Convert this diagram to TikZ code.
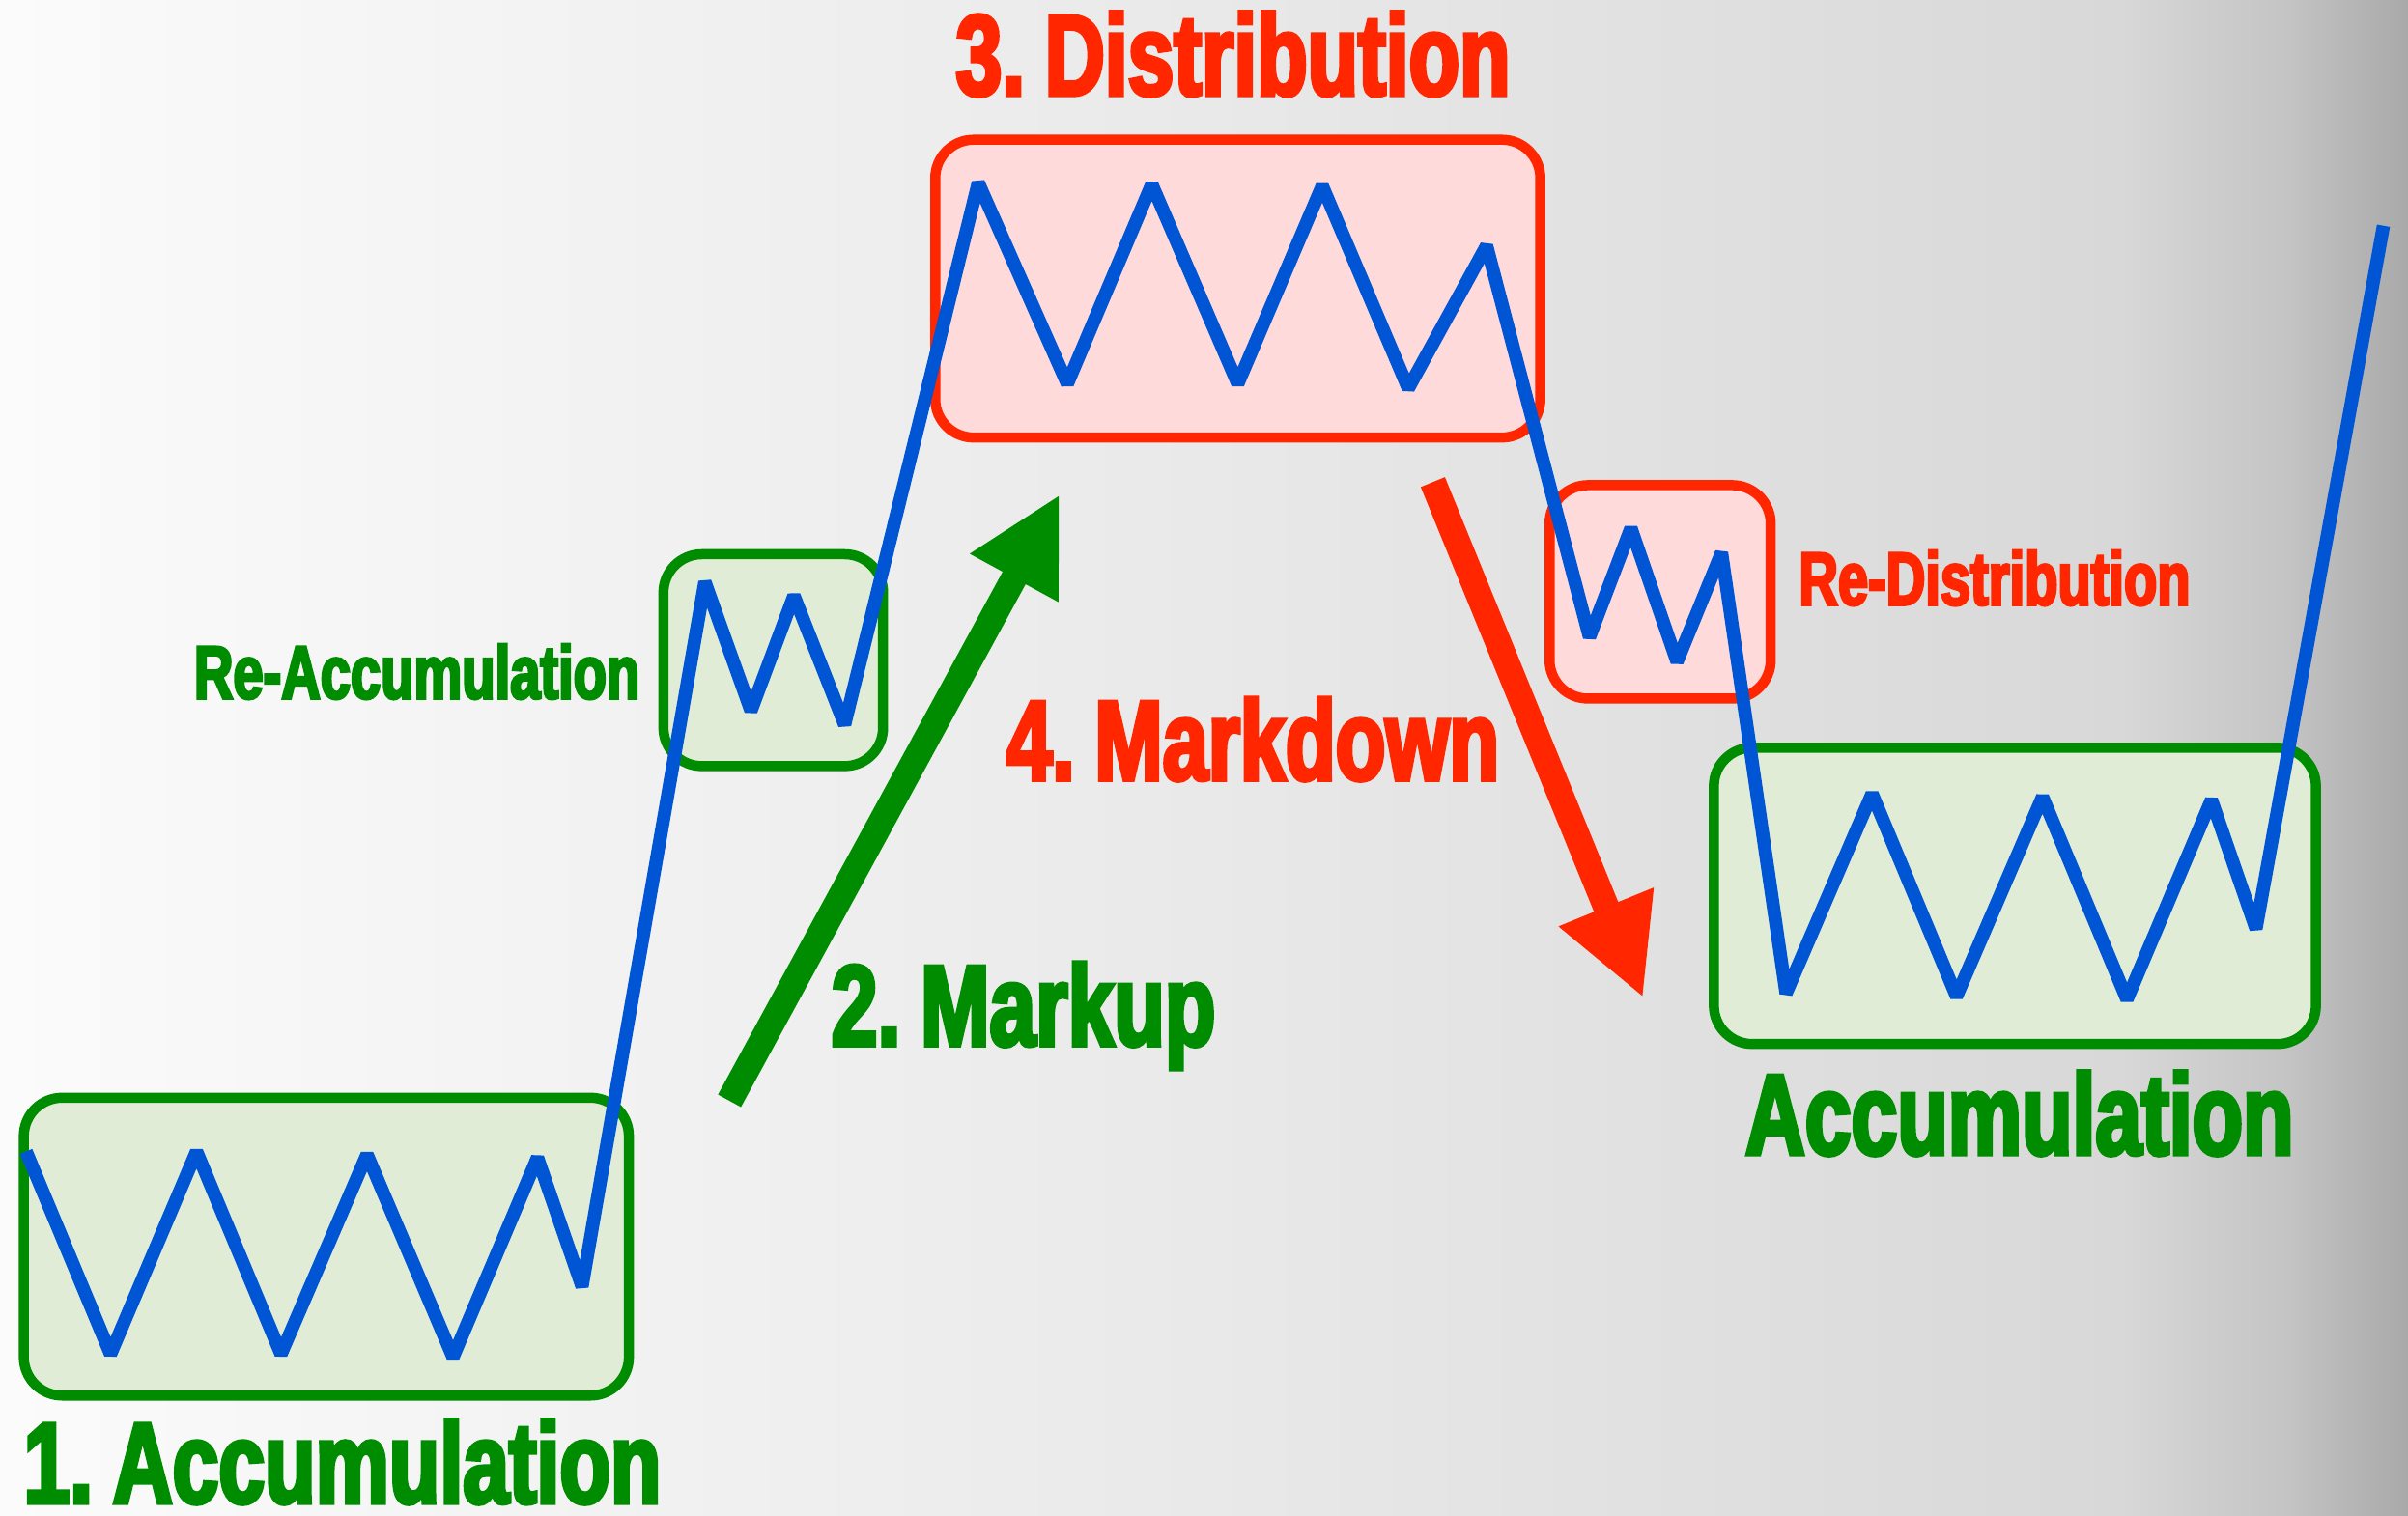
\documentclass[tikz,border=0pt]{standalone}
\usepackage{fontspec}
\usetikzlibrary{arrows.meta}
\newfontfamily\imp{Liberation Sans}[FakeStretch=0.72,BoldFeatures={FakeBold=3.5}]
\newcommand\impbig{\imp\bfseries\fontsize{37.5pt}{40pt}\selectfont\spaceskip=4pt\relax}
\newcommand\impmid{\imp\bfseries\fontsize{37pt}{39pt}\selectfont\spaceskip=4pt\relax}
\newcommand\impsmall{\imp\bfseries\fontsize{24.5pt}{26pt}\selectfont}
\definecolor{gr}{HTML}{008C00}
\definecolor{rd}{HTML}{FF2600}
\definecolor{bl}{HTML}{0055D4}
\definecolor{gfill}{HTML}{E0ECD6}
\definecolor{rfill}{HTML}{FFDADA}
\definecolor{bg0}{HTML}{FBFBFB}
\definecolor{bg1}{HTML}{E9E9E9}
\definecolor{bg2}{HTML}{D8D8D8}
\definecolor{bg3}{HTML}{C4C4C4}
\definecolor{bg4}{HTML}{A9A9A9}
\pgfdeclarehorizontalshading{bgshade}{100bp}{color(0bp)=(bg0); color(25bp)=(bg0); color(50bp)=(bg1); color(69bp)=(bg2); color(72.5bp)=(bg3); color(75bp)=(bg4); color(100bp)=(bg4)}
\begin{document}
\begin{tikzpicture}[x=0.5pt,y=-0.5pt,
  gbox/.style={draw=gr, fill=gfill, line width=3.3pt, rounded corners=12.5pt, inner sep=0pt, outer sep=0pt},
  rbox/.style={draw=rd, fill=rfill, line width=3.3pt, rounded corners=12.5pt, inner sep=0pt, outer sep=0pt},
  zig/.style={draw=bl, line width=4.3pt, line join=bevel},
  big/.style={font=\impbig, inner sep=0pt, anchor=base west},
  mid/.style={font=\impmid, inner sep=0pt, anchor=base west},
  small/.style={font=\impsmall, inner sep=0pt, anchor=base west}]
\useasboundingbox (0,0) rectangle (1568,987);
\shade[shading=bgshade] (0,0) rectangle (1568,987);
% boxes
\node[gbox, minimum width=197pt, minimum height=97pt] (acc1) at (212.5,812) {};
\node[gbox, minimum width=71.5pt, minimum height=69pt] (reacc) at (503.5,430) {};
\node[rbox, minimum width=197pt, minimum height=97pt] (dist) at (806,188) {};
\node[rbox, minimum width=72pt, minimum height=69.5pt] (redist) at (1081,385.5) {};
\node[gbox, minimum width=196pt, minimum height=96.5pt] (acc2) at (1312,583.5) {};
% price line
\draw[zig] (17,750) -- (72,882) -- (128,750) -- (183,882) -- (239,752) -- (295,884) -- (350,754) -- (379,838)
  -- (459,379) -- (489,463) -- (517,388) -- (550,472)
  -- (637,119) -- (695,250) -- (750,120) -- (806,250) -- (861,121) -- (917,253) -- (968,160)
  -- (1035,415) -- (1062,344) -- (1092,431) -- (1121,360)
  -- (1163,647) -- (1219,517) -- (1274,649) -- (1330,519) -- (1385,651) -- (1440,521) -- (1469,605) -- (1552,147);
% arrows
\coordinate (gs) at (475,717);
\coordinate (gt) at (690,322);
\draw[gr, line width=8.5pt, -{Triangle[length=31pt,width=30.5pt]}] (gs) -- (gt);
\coordinate (rs) at (933,314);
\coordinate (rt) at (1070,650);
\draw[rd, line width=8.5pt, -{Triangle[length=32pt,width=31pt]}] (rs) -- (rt);
% labels
\node[big, text=gr] (l1) at (15,979) {1. Accumulation};
\node[big, text=gr] (l2) at (541,681) {2. Markup};
\node[big, text=rd] (l3) at (622,62) {3. Distribution};
\node[mid, text=rd] (l4) at (655,508) {4. Markdown};
\node[big, text=gr] (l5) at (1136,752) {Accumulation};
\node[small, text=gr] (l6) at (126,455) {Re-Accumulation};
\node[small, text=rd] (l7) at (1171,394) {Re-Distribution};
\end{tikzpicture}
\end{document}
